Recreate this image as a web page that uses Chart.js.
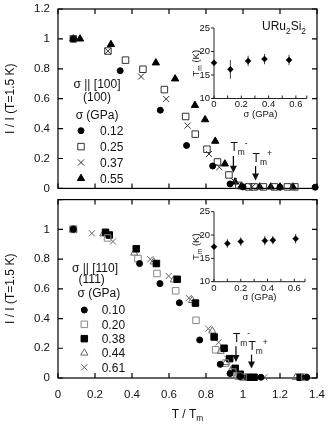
<!DOCTYPE html>
<html>
<head>
<meta charset="utf-8">
<script src="https://cdn.jsdelivr.net/npm/chart.js@4.4.1/dist/chart.umd.min.js"></script>
<style>
  html, body { margin: 0; padding: 0; background: #fff; }
  #wrap { position: relative; width: 332px; height: 427px; overflow: hidden; }
  canvas { position: absolute; }
</style>
</head>
<body>
<div id="wrap">
  <canvas id="mainTop" width="332" height="194" style="left:0;top:0"></canvas>
  <canvas id="mainBot" width="332" height="233" style="left:0;top:194px"></canvas>
  <canvas id="insetTop" width="130" height="100" style="left:186px;top:20px"></canvas>
  <canvas id="insetBot" width="130" height="100" style="left:186px;top:203px"></canvas>
</div>
<script>
// ---- panel (a): sigma || [100], I/I(T=1.5K) vs T/Tm ----
const legendA = ['0.12', '0.25', '0.37', '0.55'];
const a012 = [[0.083, 1.0], [0.336, 0.787], [0.553, 0.523], [0.695, 0.287], [0.836, 0.15],
  [0.93, 0.03], [1.0, 0.01], [1.2, 0.008], [1.39, 0.008]];
const a025 = [[0.083, 1.0], [0.27, 0.919], [0.365, 0.858], [0.459, 0.797], [0.575, 0.661],
  [0.69, 0.481], [0.742, 0.363], [0.805, 0.262], [0.862, 0.177], [0.924, 0.09],
  [0.978, 0.02], [1.03, 0.01], [1.06, 0.01], [1.11, 0.01], [1.17, 0.01], [1.24, 0.01], [1.28, 0.01]];
const a037 = [[0.083, 1.0], [0.27, 0.919], [0.449, 0.748], [0.585, 0.598], [0.7, 0.42],
  [0.816, 0.23], [0.872, 0.142], [0.951, 0.05], [1.0, 0.012], [1.05, 0.01]];
const a055 = [[0.083, 1.0], [0.119, 1.0], [0.286, 0.963], [0.529, 0.84], [0.633, 0.733],
  [0.74, 0.556], [0.795, 0.46], [0.85, 0.316], [0.902, 0.164], [0.957, 0.043],
  [0.99, 0.012], [1.09, 0.01], [1.15, 0.01], [1.2, 0.01], [1.27, 0.01]];

// ---- panel (b): sigma || [110] ----
const legendB = ['0.10', '0.20', '0.38', '0.44', '0.61'];
const b010 = [[0.083, 1.0], [0.441, 0.77], [0.551, 0.635], [0.656, 0.506], [0.766, 0.256],
  [0.877, 0.092], [0.93, 0.03], [0.985, 0.01], [1.097, 0.005], [1.345, 0.005]];
const b020 = [[0.083, 1.0], [0.268, 0.942], [0.432, 0.803], [0.535, 0.703], [0.636, 0.587],
  [0.746, 0.388], [0.852, 0.19], [0.905, 0.1], [0.945, 0.04], [0.975, 0.012], [1.0, 0.005], [1.335, 0.005]];
const b038 = [[0.083, 1.0], [0.257, 0.98], [0.277, 0.962], [0.423, 0.869], [0.532, 0.77],
  [0.644, 0.664], [0.743, 0.504], [0.844, 0.276], [0.898, 0.2], [0.928, 0.13], [0.958, 0.065],
  [0.985, 0.025], [1.028, 0.005], [1.06, 0.005], [1.309, 0.005]];
const b044 = [[0.083, 1.0], [0.245, 0.97], [0.412, 0.841], [0.517, 0.781], [0.626, 0.66],
  [0.725, 0.522], [0.834, 0.317], [0.879, 0.18], [0.908, 0.105], [0.935, 0.05], [0.965, 0.015],
  [1.0, 0.005], [1.286, 0.005]];
const b061 = [[0.083, 1.0], [0.183, 0.973], [0.297, 0.918], [0.499, 0.799], [0.598, 0.686],
  [0.707, 0.538], [0.812, 0.332], [0.868, 0.24], [0.915, 0.13], [0.95, 0.05], [0.98, 0.015], [1.115, 0.005]];

// ---- insets: Tm (K) vs sigma (GPa) ----
const insetSigA = [0, 0.12, 0.25, 0.37, 0.55];
const insetTmA = [17.6, 16.2, 18.0, 18.4, 18.2];
const insetErrA = [0.5, 2.0, 1.1, 1.1, 1.1];
const insetSigB = [0, 0.10, 0.20, 0.38, 0.44, 0.61];
const insetTmB = [17.5, 18.2, 18.6, 18.8, 18.9, 19.2];
const insetErrB = [0.5, 0.9, 0.9, 1.0, 0.9, 1.0];

// Tm- / Tm+ arrows: [x, from y, to y, sign]
const arrowsA = [[0.948, 0.217, 0.105, '-'], [1.068, 0.149, 0.053, '+']];
const arrowsB = [[0.962, 0.214, 0.108, '-'], [1.046, 0.157, 0.064, '+']];

// tick labels
const xTickLabels = ['0', '0.2', '0.4', '0.6', '0.8', '1', '1.2', '1.4'];
const yTickLabelsA = ['0', '0.2', '0.4', '0.6', '0.8', '1', '1.2'];
const yTickLabelsB = ['0', '0.2', '0.4', '0.6', '0.8', '1', ''];
const insetXLabels = ['0', '0.2', '0.4', '0.6'];
const insetYLabels = ['10', '15', '20', '25'];

const FONT = '"Liberation Sans", Arial, Helvetica, sans-serif';
Chart.defaults.font.family = FONT;
Chart.defaults.color = '#111';

const drawPt = (Chart.helpers && Chart.helpers.drawPoint) || function (ctx, o, x, y) {
  ctx.beginPath(); ctx.arc(x, y, o.radius, 0, Math.PI * 2); ctx.fill();
};

// text with sub/superscripts: parts = [[text, ''|'sub'|'sup'], ...]
function richText(ctx, parts, x, y, size, align) {
  const small = size * 0.7;
  let w = 0;
  parts.forEach(([t, k]) => { ctx.font = (k ? small : size) + 'px ' + FONT; w += ctx.measureText(t).width; });
  let cx = align === 'center' ? x - w / 2 : align === 'right' ? x - w : x;
  ctx.textAlign = 'left';
  ctx.textBaseline = 'alphabetic';
  parts.forEach(([t, k]) => {
    ctx.font = (k ? small : size) + 'px ' + FONT;
    const dy = k === 'sub' ? size * 0.32 : k === 'sup' ? -size * 0.45 : 0;
    ctx.fillText(t, cx, y + dy);
    cx += ctx.measureText(t).width;
  });
}

const panelPlugin = {
  id: 'panel',
  beforeDatasetsDraw(chart, args, o) {
    const { ctx, chartArea: a, scales: { x, y } } = chart;
    ctx.save();
    ctx.strokeStyle = '#000';
    ctx.lineWidth = 1.2;
    ctx.strokeRect(a.left, a.top, a.right - a.left, a.bottom - a.top);
    ctx.beginPath();
    x.ticks.forEach(t => {
      const px = x.getPixelForValue(t.value);
      ctx.moveTo(px, a.top); ctx.lineTo(px, a.top + 5);
      ctx.moveTo(px, a.bottom); ctx.lineTo(px, a.bottom - 5);
    });
    y.ticks.forEach(t => {
      const py = y.getPixelForValue(t.value);
      ctx.moveTo(a.left, py); ctx.lineTo(a.left + 5, py);
      ctx.moveTo(a.right, py); ctx.lineTo(a.right - 5, py);
    });
    ctx.stroke();
    ctx.restore();
  },
  afterDraw(chart, args, o) {
    const { ctx, chartArea: a, scales: { x, y } } = chart;
    ctx.save();
    ctx.fillStyle = '#111';
    ctx.strokeStyle = '#000';
    // arrows
    o.arrows.forEach(([ax, y0, y1, sign]) => {
      const px = x.getPixelForValue(ax), top = y.getPixelForValue(y0), tip = y.getPixelForValue(y1);
      ctx.lineWidth = 1.2;
      ctx.beginPath(); ctx.moveTo(px, top); ctx.lineTo(px, tip - 6); ctx.stroke();
      ctx.beginPath(); ctx.moveTo(px - 3.5, tip - 7); ctx.lineTo(px + 3.5, tip - 7); ctx.lineTo(px, tip); ctx.closePath(); ctx.fill();
      richText(ctx, [['T', ''], ['m', 'sub'], [sign, 'sup']], px - 3, top - 4.5, 12, 'left');
    });
    // legend block
    const L = o.legend;
    L.head.forEach(([txt, cx, by]) => richText(ctx, [[txt, '']], cx, by, 12, 'center'));
    o.styles.forEach((s, i) => {
      const my = L.y0 + i * L.dy;
      ctx.fillStyle = s.bg; ctx.strokeStyle = s.border; ctx.lineWidth = 1;
      drawPt(ctx, { pointStyle: s.style, radius: s.r, rotation: 0, borderWidth: 1 }, L.mx, my);
      ctx.fillStyle = '#111';
      richText(ctx, [[o.labels[i], '']], L.tx, my + 4.3, 12, 'left');
    });
    if (o.extra) o.extra(ctx, a);
    ctx.restore();
  }
};

function mainChart(id, series, styles, labels, yLabels, arrows, legend, geo, extra) {
  return new Chart(document.getElementById(id), {
    type: 'scatter',
    data: {
      datasets: series.map((s, i) => ({
        data: s.map(([x, y]) => ({ x, y })),
        pointStyle: styles[i].style,
        pointRadius: styles[i].r,
        pointBackgroundColor: styles[i].bg,
        pointBorderColor: styles[i].border,
        pointBorderWidth: 1,
        clip: false
      }))
    },
    options: {
      responsive: false, animation: false, devicePixelRatio: 1,
      layout: { padding: { left: 0, right: 15, top: geo.top, bottom: 0 } },
      plugins: {
        legend: { display: false }, tooltip: { enabled: false },
        panel: { arrows, legend, styles, labels, extra }
      },
      scales: {
        x: {
          type: 'linear', min: 0, max: 1.4,
          grid: { display: false, drawTicks: false }, border: { display: false },
          ticks: {
            stepSize: 0.2, display: geo.showX, padding: 10, font: { size: 11.5 },
            autoSkip: false, maxRotation: 0, minRotation: 0,
            callback: (v, i) => xTickLabels[i]
          },
          afterFit: s => { s.height = geo.xh; s.paddingLeft = 0; s.paddingRight = 0; }
        },
        y: {
          type: 'linear', min: 0, max: 1.2,
          grid: { display: false, drawTicks: false }, border: { display: false },
          ticks: { stepSize: 0.2, padding: 8, font: { size: 11.5 }, autoSkip: false, callback: (v, i) => yLabels[i] },
          title: { display: true, text: 'I / I (T=1.5 K)', font: { size: 12 }, padding: { top: 3, bottom: 0 } },
          afterFit: s => { s.width = 58; s.paddingTop = 0; s.paddingBottom = 0; }
        }
      }
    },
    plugins: [panelPlugin]
  });
}

const stylesA = [
  { style: 'circle', r: 3, bg: '#000', border: '#000' },
  { style: 'rect', r: 4.6, bg: 'rgba(0,0,0,0)', border: '#333' },
  { style: 'crossRot', r: 4.3, bg: '#333', border: '#333' },
  { style: 'triangle', r: 4.2, bg: '#000', border: '#000' }
];
const stylesB = [
  { style: 'circle', r: 3, bg: '#000', border: '#000' },
  { style: 'rect', r: 4.6, bg: 'rgba(0,0,0,0)', border: '#888' },
  { style: 'rect', r: 4.6, bg: '#000', border: '#000' },
  { style: 'triangle', r: 4.2, bg: 'rgba(0,0,0,0)', border: '#666' },
  { style: 'crossRot', r: 4.3, bg: '#666', border: '#666' }
];

mainChart('mainTop', [a012, a025, a037, a055], stylesA, legendA, yTickLabelsA, arrowsA,
  { head: [['σ || [100]', 97, 87.6], ['(100)', 97, 101], ['σ (GPa)', 97, 119.3]], mx: 81, tx: 100, y0: 130.7, dy: 15.9 },
  { top: 9, xh: 3, showX: false },
  (ctx, a) => {
    ctx.fillStyle = '#111';
    richText(ctx, [['URu', ''], ['2', 'sub'], ['Si', ''], ['2', 'sub']], 306, 30, 12, 'right');
  });

mainChart('mainBot', [b010, b020, b038, b044, b061], stylesB, legendB, yTickLabelsB, arrowsB,
  { head: [['σ || [110]', 95, 78], ['(111)', 91.7, 88.6], ['σ (GPa)', 98.8, 102.6]], mx: 84.3, tx: 101.7, y0: 116, dy: 14.33 },
  { top: 3, xh: 49, showX: true },
  (ctx, a) => {
    ctx.fillStyle = '#111';
    richText(ctx, [['T / T', ''], ['m', 'sub']], (a.left + a.right) / 2, 223.6, 12, 'center');
  });

// ---- insets ----
const insetPlugin = {
  id: 'inset',
  beforeDatasetsDraw(chart, args, o) {
    const { ctx, chartArea: a, scales: { x, y } } = chart;
    ctx.save();
    ctx.strokeStyle = '#222';
    ctx.lineWidth = 1;
    ctx.beginPath();
    ctx.moveTo(a.left, a.top); ctx.lineTo(a.left, a.bottom); ctx.lineTo(a.right, a.bottom);
    for (let v = 0; v <= 0.6001; v += 0.1) {
      const px = x.getPixelForValue(v);
      ctx.moveTo(px, a.bottom); ctx.lineTo(px, a.bottom - 3);
    }
    ctx.moveTo(a.right, a.bottom); ctx.lineTo(a.right, a.bottom - 3);
    y.ticks.forEach(t => {
      const py = y.getPixelForValue(t.value);
      ctx.moveTo(a.left, py); ctx.lineTo(a.left - 3, py);
    });
    ctx.stroke();
    // error bars
    ctx.strokeStyle = '#444';
    ctx.beginPath();
    o.sig.forEach((s, i) => {
      const px = x.getPixelForValue(s);
      ctx.moveTo(px, y.getPixelForValue(o.tm[i] - o.err[i]));
      ctx.lineTo(px, y.getPixelForValue(o.tm[i] + o.err[i]));
    });
    ctx.stroke();
    // titles
    ctx.fillStyle = '#111';
    richText(ctx, [['σ (GPa)', '']], (a.left + a.right) / 2, a.bottom + 18.4, 9.5, 'center');
    ctx.translate(10, (a.top + a.bottom) / 2);
    ctx.rotate(-Math.PI / 2);
    richText(ctx, [['T', ''], ['m', 'sub'], [' (K)', '']], 0, 3.4, 9.5, 'center');
    ctx.restore();
  }
};

function insetChart(id, sig, tm, err, geo) {
  return new Chart(document.getElementById(id), {
    type: 'scatter',
    data: {
      datasets: [{
        data: sig.map((s, i) => ({ x: s, y: tm[i] })),
        pointStyle: 'rectRot', pointRadius: 3,
        pointBackgroundColor: '#000', pointBorderColor: '#000', pointBorderWidth: 0.5,
        clip: false
      }]
    },
    options: {
      responsive: false, animation: false, devicePixelRatio: 1,
      layout: { padding: { left: 0, right: geo.right, top: geo.top, bottom: 0 } },
      plugins: { legend: { display: false }, tooltip: { enabled: false }, inset: { sig, tm, err } },
      scales: {
        x: {
          type: 'linear', min: 0, max: 0.68,
          grid: { display: false, drawTicks: false }, border: { display: false },
          ticks: {
            stepSize: 0.2, includeBounds: false, padding: 0.5, font: { size: 9.5 },
            autoSkip: false, maxRotation: 0, minRotation: 0, callback: (v, i) => insetXLabels[i]
          },
          afterFit: s => { s.height = geo.xh; s.paddingLeft = 0; s.paddingRight = 0; }
        },
        y: {
          type: 'linear', min: 10, max: 25,
          grid: { display: false, drawTicks: false }, border: { display: false },
          ticks: { stepSize: 5, padding: 4, font: { size: 9.5 }, callback: (v, i) => insetYLabels[i] },
          afterFit: s => { s.width = 28; s.paddingTop = 0; s.paddingBottom = 0; }
        }
      }
    },
    plugins: [insetPlugin]
  });
}

insetChart('insetTop', insetSigA, insetTmA, insetErrA, { top: 8, right: 9.2, xh: 21.5 });
insetChart('insetBot', insetSigB, insetTmB, insetErrB, { top: 8.7, right: 11, xh: 21.3 });
</script>
</body>
</html>
